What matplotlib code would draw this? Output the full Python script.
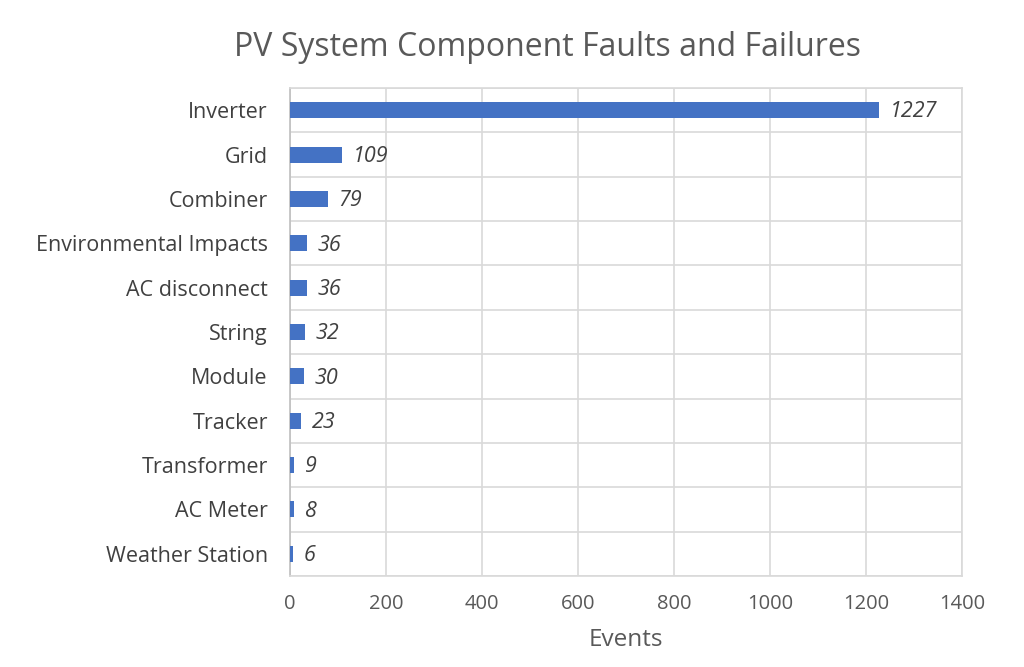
import matplotlib.pyplot as plt
import numpy as np

components = ["Inverter", "Grid", "Combiner", "Environmental Impacts", "AC disconnect",
              "String", "Module", "Tracker", "Transformer", "AC Meter", "Weather Station"]
events = [1227, 109, 79, 36, 36, 32, 30, 23, 9, 8, 6]
xticks = [0, 200, 400, 600, 800, 1000, 1200, 1400]

plt.rcParams['font.family'] = ['Open Sans', 'DejaVu Sans']

fig = plt.figure(figsize=(10.24, 6.67), dpi=100)
ax = fig.add_axes([290/1024, 1-576/667, 672/1024, 488/667])

y = np.arange(len(components))
ax.barh(y, events, height=0.36, color="#4472C4", zorder=3)
for yi, v in zip(y, events):
    ax.text(v + 22, yi + 0.04, str(v), va="center", ha="left", fontsize=15.5,
            style="italic", color="#404040")

ax.set_ylim(len(components) - 0.5, -0.5)
ax.set_xlim(0, 1400)
ax.set_yticks(y)
ax.set_yticklabels(components, fontsize=15.5, color="#404040")
ax.set_xticks(xticks)
ax.set_xticklabels([str(t) for t in xticks], fontsize=14.5, color="#595959")
ax.set_yticks(np.arange(len(components) + 1) - 0.5, minor=True)
ax.tick_params(axis="y", which="both", length=0, pad=16)
ax.tick_params(axis="x", length=0, pad=13)

ax.grid(axis="x", which="major", color="#D9D9D9", linewidth=1.2, zorder=0)
ax.grid(axis="y", which="minor", color="#D9D9D9", linewidth=1.2, zorder=0)
ax.grid(axis="y", which="major", visible=False)
for side in ["top", "right", "bottom", "left"]:
    ax.spines[side].set_color("#D9D9D9")
    ax.spines[side].set_linewidth(1.2)
ax.spines["left"].set_color("#BFBFBF")

ax.set_xlabel("Events", fontsize=17.5, color="#595959", labelpad=10)
fig.suptitle("PV System Component Faults and Failures", fontsize=23, color="#595959",
             x=547/1024, y=1 - 47/667, va="center")

fig.savefig("out.png", dpi=100)
